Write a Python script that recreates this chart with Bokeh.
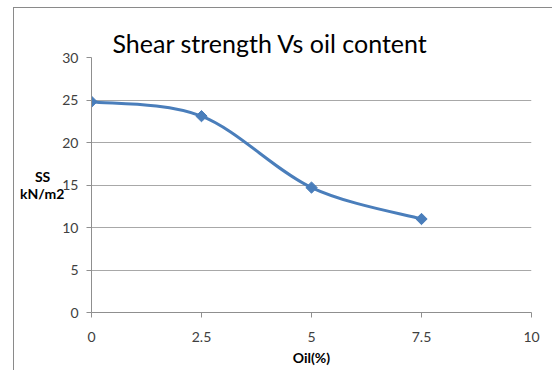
from bokeh.plotting import figure
from bokeh.models import Range1d, FixedTicker
from bokeh.embed import file_html
from bokeh.resources import INLINE

# ---- data ----
oil = [0, 2.5, 5, 7.5]
shear = [24.8, 23.1, 14.7, 11.0]
x_ticks = [0, 2.5, 5, 7.5, 10]
x_tick_labels = ["0", "2.5", "5", "7.5", "10"]
y_ticks = [0, 5, 10, 15, 20, 25, 30]
title_text = "Shear strength Vs oil content"
x_label = "Oil(%)"
y_label = "SS\u2002\u2002\nkN/m2"

OFF_X, OFF_Y = 13, 7          # chart area offset inside the window
W, H = 552 - OFF_X, 370 - OFF_Y
L, R, T, B = 77, 22, 49, 59   # borders around the plot frame

p = figure(width=W, height=H, output_backend="svg", toolbar_location=None,
           x_range=Range1d(0, 10), y_range=Range1d(0, 30),
           min_border_left=L, min_border_right=R, min_border_top=T, min_border_bottom=B)
p.margin = (OFF_Y, 0, 0, OFF_X)
p.styles = {"border-top": "1px solid #8a8a8a", "border-left": "1px solid #8a8a8a",
            "box-sizing": "border-box"}
p.outline_line_color = None
p.background_fill_color = "white"
p.border_fill_color = "white"

axis_col = "#8f8f8f"
font = "Lato"

# title
p.title.text = title_text
p.title.align = "left"
p.title.offset = 21
p.title.standoff = 0
p.title.text_font = font
p.title.text_font_style = "normal"
p.title.text_font_size = "25px"
p.title.text_color = "black"

p.xaxis.ticker = FixedTicker(ticks=x_ticks)
p.xaxis.major_label_overrides = {t: s for t, s in zip(x_ticks, x_tick_labels)}
p.yaxis.ticker = FixedTicker(ticks=y_ticks)
for ax in (p.xaxis, p.yaxis):
    ax.axis_line_color = axis_col
    ax.major_tick_line_color = axis_col
    ax.major_tick_in = 0
    ax.major_tick_out = 5
    ax.minor_tick_line_color = None
    ax.major_label_text_font = font
    ax.major_label_text_font_size = "14px"
    ax.major_label_text_color = "#404040"
    ax.axis_label_text_font = font
    ax.axis_label_text_font_style = "bold"
    ax.axis_label_text_font_size = "14px"
    ax.axis_label_text_color = "black"
p.xaxis.major_label_standoff = 14
p.yaxis.major_label_standoff = 8

p.xaxis.axis_label = x_label
p.xaxis.axis_label_standoff = 4
p.yaxis.axis_label = y_label
p.yaxis.axis_label_orientation = "horizontal"
p.yaxis.axis_label_text_align = "center"
p.yaxis.axis_label_text_line_height = 1.05
p.yaxis.axis_label_standoff = -5

p.xgrid.grid_line_color = None
p.ygrid.ticker = FixedTicker(ticks=y_ticks)
p.ygrid.grid_line_color = "#a8a8a8"
p.ygrid.grid_line_width = 1

# Excel-style smoothed line: Bezier segments whose control points come from the data
n = len(oil)
pts = list(zip(oil, shear))
x0s, y0s, x1s, y1s, cx0, cy0, cx1, cy1 = [], [], [], [], [], [], [], []
for i in range(n - 1):
    p0 = pts[i - 1] if i > 0 else pts[i]
    p1 = pts[i]
    p2 = pts[i + 1]
    p3 = pts[i + 2] if i + 2 < n else pts[i + 1]
    x0s.append(p1[0]); y0s.append(p1[1])
    x1s.append(p2[0]); y1s.append(p2[1])
    cx0.append(p1[0] + (p2[0] - p0[0]) / 6); cy0.append(p1[1] + (p2[1] - p0[1]) / 6)
    cx1.append(p2[0] - (p3[0] - p1[0]) / 6); cy1.append(p2[1] - (p3[1] - p1[1]) / 6)

line_col = "#4A7EBB"
p.bezier(x0=x0s, y0=y0s, x1=x1s, y1=y1s, cx0=cx0, cy0=cy0, cx1=cx1, cy1=cy1,
         line_color=line_col, line_width=3)
p.scatter(oil, shear, marker="square", angle=0.785398, size=8,
          fill_color=line_col, line_color=line_col, line_width=1)

open("out.html", "w").write(file_html(p, INLINE))
